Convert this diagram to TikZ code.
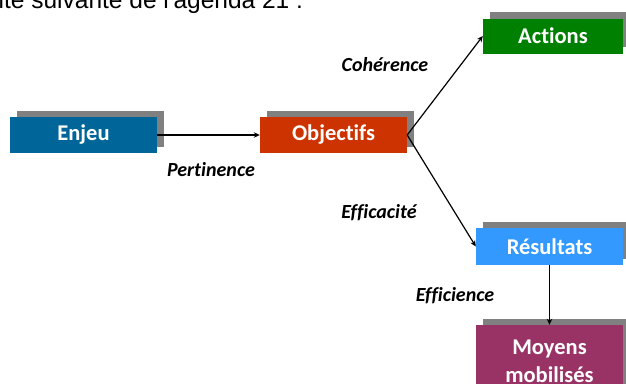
\documentclass[tikz,border=0pt]{standalone}
\usepackage{fontspec}
\setmainfont{Carlito}[Ligatures=NoCommon]
\newfontfamily\headfont{Liberation Sans}
\usepackage{tikz}
\usetikzlibrary{arrows.meta,shadows}
\definecolor{agblue}{RGB}{0,102,153}
\definecolor{agred}{RGB}{204,51,0}
\definecolor{aggreen}{RGB}{0,128,0}
\definecolor{aglight}{RGB}{51,153,255}
\definecolor{agplum}{RGB}{153,51,102}
\definecolor{aggray}{RGB}{128,128,128}

\begin{document}
\begin{tikzpicture}[x=1pt, y=-1pt,
  stagebox/.style={text=white, inner sep=0pt, minimum width=147pt, minimum height=36pt,
    font=\fontsize{22.5}{28}\selectfont\bfseries,
    general shadow={fill=aggray, shadow xshift=6.5pt, shadow yshift=6.5pt}},
  critlabel/.style={inner sep=0pt, font=\fontsize{20}{24}\selectfont\bfseries\itshape},
  link/.style={-{Stealth[length=6pt, width=5.5pt]}, line width=1.2pt}]
\useasboundingbox (0,0) rectangle (626,383);
% title line, cut at the top
\node[anchor=base west, inner sep=0pt, font=\headfont\fontsize{24.5}{29}\selectfont] (title) at (-1.5,8) {ite suivante de l'agenda 21 :};
% boxes
\node[stagebox, fill=agblue] (enjeu) at (83.5,135) {Enjeu};
\node[stagebox, fill=agred] (objectifs) at (333.5,135) {Objectifs};
\node[stagebox, fill=aggreen, minimum width=140pt, minimum height=35pt] (actions) at (553,36) {Actions};
\node[stagebox, fill=aglight, minimum height=37pt] (resultats) at (549.5,246.5) {Résultats};
\node[stagebox, fill=agplum, minimum height=72pt, align=center] (moyens) at (549.5,361) {Moyens\\mobilisés};
% links
\draw[link] (enjeu.east) -- (objectifs.west);
\draw[link] (objectifs.east) -- (actions.west);
\draw[link] (objectifs.east) -- (resultats.west);
\draw[link] (resultats.south) -- (moyens.north);
% criteria
\node[critlabel] (pertinence) at (211,170) {Pertinence};
\node[critlabel] (coherence) at (385,65) {Cohérence};
\node[critlabel] (efficacite) at (379,213) {Efficacité};
\node[critlabel] (efficience) at (455,296) {Efficience};
\end{tikzpicture}
\end{document}
